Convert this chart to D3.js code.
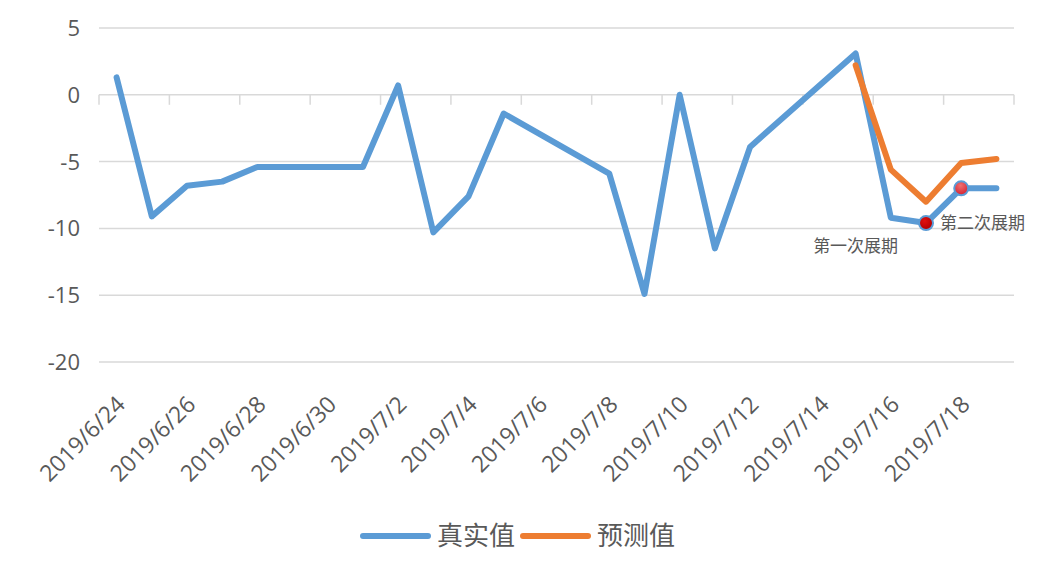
<!DOCTYPE html>
<html>
<head>
<meta charset="utf-8">
<script src="https://cdn.jsdelivr.net/npm/d3@7"></script>
<style>
  body { margin: 0; background: #fff; }
  svg { display: block; }
</style>
</head>
<body>
<svg id="chart" width="1044" height="567"></svg>
<script>
// 日付（カテゴリ）: 週末は値なし
const dates = [
  "2019/6/24", "2019/6/25", "2019/6/26", "2019/6/27", "2019/6/28", "2019/6/29",
  "2019/6/30", "2019/7/1", "2019/7/2", "2019/7/3", "2019/7/4", "2019/7/5",
  "2019/7/6", "2019/7/7", "2019/7/8", "2019/7/9", "2019/7/10", "2019/7/11",
  "2019/7/12", "2019/7/13", "2019/7/14", "2019/7/15", "2019/7/16", "2019/7/17",
  "2019/7/18", "2019/7/19",
];
const realValues = [
  1.3, -9.1, -6.8, -6.5, -5.4, null,
  null, -5.4, 0.7, -10.3, -7.6, -1.4,
  null, null, -5.9, -14.9, 0.0, -11.5,
  -3.9, null, null, 3.1, -9.2, -9.6,
  -7.0, -7.0,
];
const predictValues = [
  null, null, null, null, null, null,
  null, null, null, null, null, null,
  null, null, null, null, null, null,
  null, null, null, 2.2, -5.6, -8.0,
  -5.1, -4.8,
];
const yTicks = [5, 0, -5, -10, -15, -20];
const seriesNames = ["真实值", "预测值"];
const seriesColors = ["#5b9bd5", "#ed7d31"];
const markerDates = ["2019/7/17", "2019/7/18"];
const notes = [
  { date: "2019/7/15", value: -11.3, text: "第一次展期", anchor: "middle", dx: 0 },
  { date: "2019/7/17", value: -9.6, text: "第二次展期", anchor: "start", dx: 14 },
];

const svg = d3.select("#chart");
const plot = { left: 99, right: 1014, top: 28, bottom: 362 };

const x = d3.scaleBand().domain(dates).range([plot.left, plot.right]).padding(0);
const y = d3.scaleLinear().domain([-20, 5]).range([plot.bottom, plot.top]);
const cx = (d) => x(d) + x.bandwidth() / 2;

const defs = svg.append("defs");
const g1 = defs.append("radialGradient").attr("id", "mk0").attr("cx", "40%").attr("cy", "35%").attr("r", "65%");
g1.append("stop").attr("offset", "0%").attr("stop-color", "#e01010");
g1.append("stop").attr("offset", "100%").attr("stop-color", "#b00000");
const g2 = defs.append("radialGradient").attr("id", "mk1").attr("cx", "45%").attr("cy", "30%").attr("r", "70%");
g2.append("stop").attr("offset", "0%").attr("stop-color", "#f07070");
g2.append("stop").attr("offset", "100%").attr("stop-color", "#d42030");

// grid lines
svg.append("g")
  .selectAll("line")
  .data(yTicks)
  .join("line")
  .attr("x1", plot.left)
  .attr("x2", plot.right)
  .attr("y1", (d) => y(d))
  .attr("y2", (d) => y(d))
  .attr("stroke", "#d9d9d9")
  .attr("stroke-width", 1.5);

// y labels
svg.append("g")
  .selectAll("text")
  .data(yTicks)
  .join("text")
  .attr("x", 80)
  .attr("y", (d) => y(d))
  .attr("dy", "0.36em")
  .attr("text-anchor", "end")
  .attr("font-family", "'Open Sans', sans-serif")
  .attr("font-size", 22)
  .attr("fill", "#595959")
  .text((d) => d);

// category axis at 0, ticks every 2 categories
const tickDates = dates.filter((d, i) => i % 2 === 0);
const tickPos = tickDates.map((d) => x(d)).concat([plot.right]);
svg.append("g")
  .selectAll("line")
  .data(tickPos)
  .join("line")
  .attr("x1", (d) => d)
  .attr("x2", (d) => d)
  .attr("y1", y(0))
  .attr("y2", y(0) + 10)
  .attr("stroke", "#d9d9d9")
  .attr("stroke-width", 1.5);

svg.append("g")
  .selectAll("text")
  .data(tickDates)
  .join("text")
  .attr("transform", (d) => `translate(${cx(d) + 10},${plot.bottom + 44}) rotate(-45)`)
  .attr("text-anchor", "end")
  .attr("font-family", "'Open Sans', sans-serif")
  .attr("font-size", 23)
  .attr("fill", "#595959")
  .text((d) => d);

// lines
const line = d3.line()
  .x((d) => cx(d.date))
  .y((d) => y(d.value));

[realValues, predictValues].forEach((vals, k) => {
  const pts = dates
    .map((d, i) => ({ date: d, value: vals[i] }))
    .filter((p) => p.value !== null);
  svg.append("path")
    .datum(pts)
    .attr("d", line)
    .attr("fill", "none")
    .attr("stroke", seriesColors[k])
    .attr("stroke-width", 6)
    .attr("stroke-linejoin", "round")
    .attr("stroke-linecap", "round");
});

// markers
svg.append("g")
  .selectAll("circle")
  .data(markerDates)
  .join("circle")
  .attr("cx", (d) => cx(d))
  .attr("cy", (d) => y(realValues[dates.indexOf(d)]))
  .attr("r", 7)
  .attr("fill", (d, i) => `url(#mk${i})`)
  .attr("stroke", "#5b9bd5")
  .attr("stroke-width", 2);

// notes
svg.append("g")
  .selectAll("text")
  .data(notes)
  .join("text")
  .attr("x", (d) => cx(d.date) + d.dx)
  .attr("y", (d) => y(d.value))
  .attr("dy", "0.36em")
  .attr("text-anchor", (d) => d.anchor)
  .attr("font-family", "'Noto Sans CJK SC', sans-serif")
  .attr("font-size", 17)
  .attr("fill", "#595959")
  .text((d) => d.text);

// legend
const legend = svg.append("g").attr("transform", "translate(363,536)");
const itemW = 160;
seriesNames.forEach((name, i) => {
  const item = legend.append("g").attr("transform", `translate(${i * itemW},0)`);
  item.append("line")
    .attr("x1", 0)
    .attr("x2", 65)
    .attr("stroke", seriesColors[i])
    .attr("stroke-width", 6)
    .attr("stroke-linecap", "round");
  item.append("text")
    .attr("x", 74)
    .attr("dy", "0.36em")
    .attr("font-family", "'Noto Sans CJK SC', sans-serif")
    .attr("font-size", 26)
    .attr("fill", "#595959")
    .text(name);
});
</script>
</body>
</html>
